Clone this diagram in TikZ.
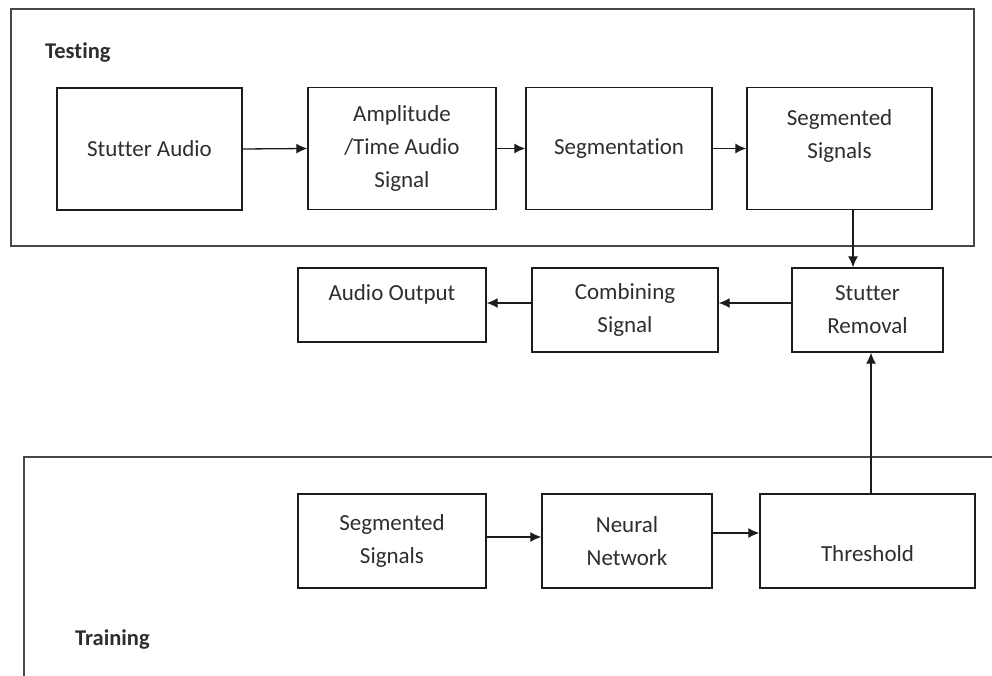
\documentclass[tikz,border=0pt]{standalone}
\usepackage{fontspec}
\setmainfont{Carlito}[Ligatures={NoCommon}]
\usepackage{xcolor}
\usepackage{tikz}
\usetikzlibrary{positioning,arrows.meta,calc}
\definecolor{LineDark}{HTML}{1C1C1C}
\definecolor{FrameGray}{HTML}{474747}
\definecolor{TextDark}{HTML}{2E2E2E}

\tikzset{
  blockbox/.style={draw=LineDark, line width=1.4pt, fill=white, align=center,
                   text=TextDark, inner sep=0pt},
  groupbox/.style={draw=FrameGray, line width=1.5pt},
  grouplabel/.style={anchor=west, text=TextDark, inner sep=0pt,
                     font=\fontsize{22.5}{33}\selectfont\bfseries},
  flowarrow/.style={draw=LineDark, line width=1.3pt, -{Latex[length=11pt,width=10pt]}}
}

\begin{document}
\begin{tikzpicture}[x=1pt, y=-1pt, font=\fontsize{23}{33}\selectfont]
  \useasboundingbox (0,0) rectangle (992,676);
  \clip (0,0) rectangle (992,676);
  \fill[white] (0,0) rectangle (992,676);

  % group frames
  \draw[groupbox] (11,9) rectangle (974,246);
  \draw[groupbox] (24,457) rectangle (1010,700);
  \node[grouplabel] (testlbl) at (45,53) {Testing};
  \node[grouplabel] (trainlbl) at (75,640) {Training};

  % testing chain
  \node[blockbox, minimum width=185pt, minimum height=122pt] (stutter) at (149.5,149) {Stutter Audio};
  \node[blockbox, minimum width=188pt, minimum height=122pt] (ampl) at (402,148.5) {Amplitude\\/Time Audio\\Signal};
  \node[blockbox, minimum width=186pt, minimum height=122pt] (segm) at (619,148.5) {Segmentation};
  \node[blockbox, minimum width=185pt, minimum height=122pt] (segsig) at (839.5,148.5) {Segmented\\Signals\\[-13pt]\strut};

  % middle row
  \node[blockbox, minimum width=151pt, minimum height=84pt] (remove) at (867.5,310) {Stutter\\Removal};
  \node[blockbox, minimum width=186pt, minimum height=84pt] (combine) at (625,310) {Combining\\Signal};
  \node[blockbox, minimum width=188pt, minimum height=74pt] (output) at (392,305) {Audio Output\\[-18pt]\strut};

  % training chain
  \node[blockbox, minimum width=188pt, minimum height=94pt] (trainseg) at (392,541) {Segmented\\Signals};
  \node[blockbox, minimum width=170pt, minimum height=94pt] (neural) at (627,541) {Neural\\Network};
  \node[blockbox, minimum width=215pt, minimum height=94pt] (thresh) at (867.5,541) {\strut\\[-14pt]Threshold};

  % connectors
  \draw[flowarrow] (stutter.east) -- (ampl.west);
  \draw[flowarrow] (ampl.east) -- (segm.west);
  \draw[flowarrow] (segm.east) -- (segsig.west);
  \draw[flowarrow] ([xshift=13.5pt]segsig.south) -- ([xshift=13.5pt]segsig.south |- remove.north);
  \draw[flowarrow] ([yshift=7pt]remove.west) -- ([yshift=7pt]combine.east);
  \draw[flowarrow] ([yshift=7pt]combine.west) -- ([yshift=7pt]combine.west -| output.east);
  \draw[flowarrow] ([yshift=4pt]trainseg.east) -- ([yshift=4pt]trainseg.east -| neural.west);
  \draw[flowarrow] ([yshift=8pt]neural.east) -- ([yshift=8pt]neural.east -| thresh.west);
  \draw[flowarrow] ([xshift=3.5pt]thresh.north) -- ([xshift=3.5pt]thresh.north |- remove.south);
\end{tikzpicture}
\end{document}
